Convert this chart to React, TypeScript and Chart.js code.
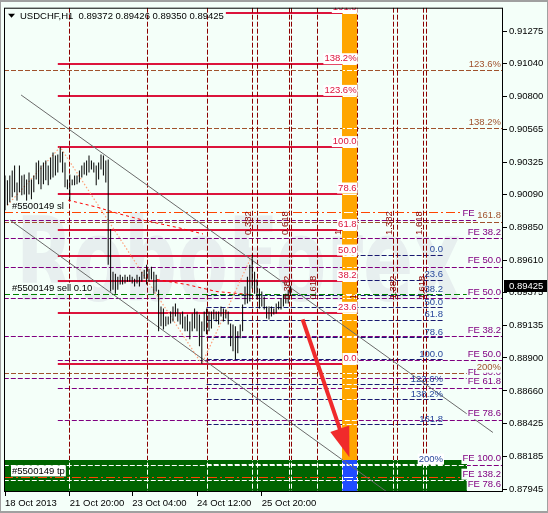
import { useEffect, useRef } from 'react';
import { Chart, registerables } from 'chart.js';

Chart.register(...registerables);

// USDCHF, H1 — one entry per bar
const highs = [
  0.90228, 0.90192, 0.90228, 0.90264, 0.90300, 0.90177, 0.90300, 0.90228, 0.90235, 0.90199,
  0.90249, 0.90199, 0.90228, 0.90322, 0.90336, 0.90300, 0.90322, 0.90336, 0.90300, 0.90358,
  0.90394, 0.90372, 0.90380, 0.90434, 0.90401, 0.90322, 0.90199, 0.90235, 0.90199, 0.90228,
  0.90228, 0.90264, 0.90300, 0.90322, 0.90336, 0.90372, 0.90336, 0.90322, 0.90300, 0.90322,
  0.90380, 0.90372, 0.90336, 0.90343, 0.89838, 0.89527, 0.89513, 0.89491, 0.89506, 0.89491,
  0.89506, 0.89491, 0.89506, 0.89491, 0.89477, 0.89506, 0.89491, 0.89527, 0.89542, 0.89578,
  0.89549, 0.89564, 0.89527, 0.89506, 0.89397, 0.89274, 0.89260, 0.89202, 0.89202, 0.89238,
  0.89274, 0.89296, 0.89260, 0.89224, 0.89238, 0.89202, 0.89216, 0.89166, 0.89224, 0.89260,
  0.89238, 0.89216, 0.89166, 0.89238, 0.89260, 0.89238, 0.89238, 0.89253, 0.89238, 0.89238,
  0.89274, 0.89260, 0.89253, 0.89238, 0.89151, 0.89144, 0.89130, 0.89094, 0.89144, 0.89289,
  0.89419, 0.89491, 0.89578, 0.89650, 0.89527, 0.89470, 0.89405, 0.89383, 0.89347, 0.89274,
  0.89274, 0.89274, 0.89260, 0.89296, 0.89310, 0.89332, 0.89361, 0.89368, 0.89397, 0.89426,
];
const lows = [
  0.89975, 0.90011, 0.90033, 0.90069, 0.90105, 0.90033, 0.90105, 0.90083, 0.90090, 0.90011,
  0.90090, 0.90054, 0.90105, 0.90199, 0.90163, 0.90127, 0.90163, 0.90192, 0.90156, 0.90199,
  0.90213, 0.90228, 0.90249, 0.90322, 0.90249, 0.90141, 0.90127, 0.90047, 0.90156, 0.90156,
  0.90163, 0.90177, 0.90213, 0.90235, 0.90228, 0.90249, 0.90271, 0.90249, 0.90156, 0.90199,
  0.90271, 0.90228, 0.90177, 0.89578, 0.89383, 0.89397, 0.89368, 0.89397, 0.89434, 0.89434,
  0.89441, 0.89455, 0.89455, 0.89441, 0.89419, 0.89441, 0.89419, 0.89455, 0.89477, 0.89434,
  0.89455, 0.89470, 0.89368, 0.89383, 0.89094, 0.89130, 0.89108, 0.89130, 0.89144, 0.89151,
  0.89166, 0.89202, 0.89166, 0.89144, 0.89115, 0.89094, 0.89094, 0.89036, 0.89094, 0.89115,
  0.89094, 0.88986, 0.88856, 0.89094, 0.89072, 0.89094, 0.89115, 0.89180, 0.89166, 0.89144,
  0.89202, 0.89166, 0.89188, 0.89144, 0.88986, 0.88949, 0.88889, 0.88935, 0.89043, 0.89094,
  0.89289, 0.89296, 0.89310, 0.89405, 0.89368, 0.89325, 0.89260, 0.89274, 0.89253, 0.89188,
  0.89180, 0.89202, 0.89216, 0.89224, 0.89253, 0.89253, 0.89274, 0.89296, 0.89296, 0.89350,
];
const headerText = 'USDCHF,H1  0.89372 0.89426 0.89350 0.89425';
const lastPrice = 0.89425;

// axes
const timeTickBars = [0, 27, 53, 80, 107];
const timeTickLabels = ['18 Oct 2013', '21 Oct 20:00', '23 Oct 04:00', '24 Oct 12:00', '25 Oct 20:00'];
const priceTicks = [
  0.91275, 0.9104, 0.908, 0.90565, 0.90325, 0.9009, 0.8985, 0.8961,
  0.89375, 0.89135, 0.889, 0.8866, 0.88425, 0.88185, 0.87945,
];
const X_MIN = -0.42;
const X_MAX = 207.5;
const Y_MIN = 0.87925;
const Y_MAX = 0.91448;

// Fibonacci retracement (crimson): from the 0.90434 high to the 0.88856 low
const retraceHighBar = 23;
const retraceLowBar = 82;
const retraceSpan = [22, 146.5];
const retraceLevels = [0, 23.6, 38.2, 50, 61.8, 78.6, 100, 123.6, 138.2, 161.8];
const retraceTexts = ['0.0', '23.6', '38.2', '50.0', '61.8', '78.6', '100.0', '123.6%', '138.2%', '161.8'];

// Fibonacci retracement (navy): last swing
const swingHighBar = 103;
const swingLowBar = 96;
const swingSpan = [84, 182.5];
const swingLevels = [0, 23.6, 38.2, 50, 61.8, 78.6, 100, 123.6, 138.2, 161.8, 200];
const swingTexts = ['0.0', '23.6', '38.2', '50.0', '61.8', '78.6', '100.0', '123.6%', '138.2%', '161.8', '200%'];

// Fibonacci extension levels (brown) of the larger move
const outerFibFrom = 0.94565;
const outerFibTo = 0.91677;
const outerLevels = [123.6, 138.2, 161.8, 200];
const outerTexts = ['123.6%', '138.2%', '161.8', '200%'];

// Fibonacci expansion levels (purple)
const expansionPrices = [0.89905, 0.89773, 0.89564, 0.89335, 0.89058, 0.88885, 0.88755, 0.88683, 0.8845, 0.88125, 0.88011, 0.87934];
const expansionTexts = ['FE 161.8', 'FE 38.2', 'FE 50.0', 'FE 50.0', 'FE 38.2', 'FE 50.0', 'FE 50.0', 'FE 61.8', 'FE 78.6', 'FE 100.0', 'FE 138.2', 'FE 78.6'];
const expansionFrom = [-0.5, -0.5, -0.5, -0.5, -0.5, 22, -0.5, 22, 22, -0.5, -0.5, -0.5];

// open order
const orderTag = '#5500149';
const stopLoss = 0.89961;
const entryPrice = 0.89364;
const takeProfit = 0.88035;

// Fibonacci time zones
const timeZoneBars = [26.5, 59, 84, 103, 105, 118.5, 119, 130, 140.5, 146.5, 161.5, 163.5, 174, 175.5];
const zoneRatioTexts = ['0.382', '0.618', '1', '1.382', '1.618'];
const zoneSetA = [103, 118.5, 140.5, 161.5, 174];
const zoneSetB = [119, 130, 146.5, 163.5, 175.5];
const zoneLabelPrices = [0.89795, 0.89325];

// target zone and support band
const targetZoneBars = [140.5, 146.5];
const targetZoneTop = 0.88156;
const bandBars = [-0.5, 192.5];

// channel, zigzag and curves
const channelUpper = [[6.7, 0.90813], [203.3, 0.88358]];
const channelLower = [[2.1, 0.89903], [170, 0.87789]];
const zigzag = [[1, 0.90011], [23, 0.90434], [82, 0.88856], [103, 0.8965]];
const curveA = [[26.3, 0.90048], [38.3, 0.89997], [47.9, 0.89947], [57.5, 0.89903], [72.9, 0.89845], [82.5, 0.89802]];
const curveB = [[63.3, 0.8947], [75.8, 0.89434], [88.3, 0.89383], [102.1, 0.89361]];
const arrowFrom = [124, 0.89181];
const arrowTo = [143.5, 0.88178];

const watermark = 'RoboForex';

const BG = '#f4fff9';
const FONT_FAMILY = '"Liberation Sans", Arial, sans-serif';
const FONT = `9.5px ${FONT_FAMILY}`;
const CRIMSON = '#dc143c';
const BROWN = '#a0522d';
const PURPLE = '#800080';
const NAVY = '#191970';
const NAVY_TEXT = '#28489c';
const DARKRED = '#8b0000';

const retracePrice = (L: number) => lows[retraceLowBar] + (highs[retraceHighBar] - lows[retraceLowBar]) * L / 100;
const swingPrice = (L: number) => highs[swingHighBar] + (lows[swingLowBar] - highs[swingHighBar]) * L / 100;
const outerPrice = (L: number) => outerFibFrom + (outerFibTo - outerFibFrom) * L / 100;

type HLine = { p: number; from: number; to: number; color: string; dash: number[]; w: number };

function levelLines(): HLine[] {
  const out: HLine[] = [];
  outerLevels.forEach((L) => out.push({ p: outerPrice(L), from: X_MIN, to: X_MAX, color: BROWN, dash: [5, 2], w: 1 }));
  expansionPrices.forEach((p, i) => out.push({ p, from: expansionFrom[i], to: X_MAX, color: PURPLE, dash: [5, 2], w: 1 }));
  swingLevels.forEach((L) => out.push({ p: swingPrice(L), from: swingSpan[0], to: swingSpan[1], color: NAVY, dash: [5, 2], w: 1 }));
  retraceLevels.forEach((L) => out.push({ p: retracePrice(L), from: retraceSpan[0], to: retraceSpan[1], color: CRIMSON, dash: [], w: 2 }));
  return out;
}

function orderLines(): HLine[] {
  return [
    { p: stopLoss, from: X_MIN, to: X_MAX, color: '#ff4500', dash: [9, 3, 2, 3], w: 1 },
    { p: entryPrice, from: X_MIN, to: X_MAX, color: '#008000', dash: [6, 3], w: 1 },
    { p: takeProfit, from: X_MIN, to: X_MAX, color: '#ff4500', dash: [9, 3, 2, 3], w: 1 },
  ];
}

function strokeH(ctx: any, X: any, Y: any, l: HLine, color?: string, width?: number) {
  const w = width ?? l.w;
  const py = w % 2 ? Math.round(Y(l.p)) + 0.5 : Math.round(Y(l.p));
  ctx.beginPath();
  ctx.strokeStyle = color ?? l.color;
  ctx.lineWidth = w;
  ctx.setLineDash(l.dash);
  ctx.moveTo(X(l.from), py);
  ctx.lineTo(X(l.to), py);
  ctx.stroke();
}

function strokeV(ctx: any, px: number, a: any, color: string) {
  const x = Math.round(px) + 0.5;
  ctx.beginPath();
  ctx.strokeStyle = color;
  ctx.lineWidth = 1;
  ctx.setLineDash([5, 2]);
  ctx.moveTo(x, a.top);
  ctx.lineTo(x, a.bottom);
  ctx.stroke();
}

function polyline(ctx: any, X: any, Y: any, pts: number[][], color: string, dash: number[], w: number) {
  ctx.beginPath();
  ctx.strokeStyle = color;
  ctx.lineWidth = w;
  ctx.setLineDash(dash);
  pts.forEach(([bx, p], i) => (i ? ctx.lineTo(X(bx), Y(p)) : ctx.moveTo(X(bx), Y(p))));
  ctx.stroke();
}

function label(ctx: any, text: string, x: number, y: number, align: CanvasTextAlign, color: string, box?: string) {
  ctx.font = FONT;
  ctx.textAlign = align;
  ctx.textBaseline = 'middle';
  if (box) {
    const w = ctx.measureText(text).width;
    const left = align === 'right' ? x - w : align === 'center' ? x - w / 2 : x;
    ctx.fillStyle = box;
    ctx.fillRect(left - 1, y - 5.5, w + 2, 11);
  }
  ctx.fillStyle = color;
  ctx.fillText(text, x, y);
}

const mtObjects = {
  id: 'mtObjects',
  beforeDraw(chart: any) {
    const { ctx, width, height } = chart;
    ctx.save();
    ctx.fillStyle = BG;
    ctx.fillRect(0, 0, width, height);
    ctx.fillStyle = '#a0a0a0';
    ctx.fillRect(0, 0, width, 2);
    ctx.fillRect(0, height - 2, width, 2);
    ctx.fillRect(0, 0, 1, height);
    ctx.fillRect(width - 1, 0, 1, height);
    ctx.restore();
  },
  beforeDatasetsDraw(chart: any) {
    const { ctx, chartArea: a, scales } = chart;
    const X = (v: number) => scales.x.getPixelForValue(v);
    const Y = (v: number) => scales.y.getPixelForValue(v);
    ctx.save();
    ctx.beginPath();
    ctx.rect(a.left, a.top, a.right - a.left, a.bottom - a.top);
    ctx.clip();
    ctx.fillStyle = BG;
    ctx.fillRect(a.left, a.top, a.right - a.left, a.bottom - a.top);

    // watermark
    ctx.save();
    ctx.font = `bold 116px "DejaVu Sans", ${FONT_FAMILY}`;
    const ww = ctx.measureText(watermark).width;
    ctx.translate(a.left + 12, 300);
    ctx.scale(445 / ww, 1);
    ctx.fillStyle = '#e7efef';
    ctx.textBaseline = 'alphabetic';
    ctx.textAlign = 'left';
    ctx.fillText(watermark, 0, 0);
    ctx.restore();

    const levels = levelLines();
    const orders = orderLines();
    levels.forEach((l) => strokeH(ctx, X, Y, l));

    // header backdrop
    ctx.font = FONT;
    const hw = ctx.measureText(headerText).width;
    ctx.fillStyle = BG;
    ctx.fillRect(a.left + 1, a.top + 1, 17 + hw, 13);

    timeZoneBars.forEach((b) => strokeV(ctx, X(b), a, DARKRED));

    // support band and target zone
    const gL = X(bandBars[0]);
    const gR = Math.round(X(bandBars[1]));
    const split = Math.round(Y(targetZoneTop));
    const cL = Math.round(X(targetZoneBars[0]));
    const cR = Math.round(X(targetZoneBars[1]));
    ctx.fillStyle = '#006400';
    ctx.fillRect(gL, split, gR - gL, a.bottom - split);
    ctx.fillStyle = '#ffa500';
    ctx.fillRect(cL, a.top, cR - cL, split - a.top);
    ctx.fillStyle = '#1f4cff';
    ctx.fillRect(cL, split, cR - cL, a.bottom - split);

    ctx.save();
    ctx.beginPath();
    ctx.rect(gL, split, gR - gL, a.bottom - split);
    ctx.clip();
    levels.forEach((l) => strokeH(ctx, X, Y, l, '#ffffff', 1));
    timeZoneBars.forEach((b) => strokeV(ctx, X(b), a, '#ffffff'));
    ctx.restore();

    orders.forEach((l) => strokeH(ctx, X, Y, l));

    ctx.save();
    ctx.beginPath();
    ctx.rect(cL + 1, a.top, cR - cL - 1, a.bottom - a.top);
    ctx.clip();
    levels.forEach((l) => strokeH(ctx, X, Y, l, '#ffffff', 1));
    orders.forEach((l) => strokeH(ctx, X, Y, l, '#ffffff', 1));
    ctx.restore();

    // channel, zigzag, curves
    polyline(ctx, X, Y, channelUpper, '#6a6a6a', [], 1);
    polyline(ctx, X, Y, channelLower, '#6a6a6a', [], 1);
    polyline(ctx, X, Y, zigzag, '#ffa07a', [1.5, 2], 1.2);
    polyline(ctx, X, Y, curveA, '#ff0000', [3, 3], 1);
    polyline(ctx, X, Y, curveB, '#ff0000', [3, 3], 1);
    ctx.restore();
  },
  afterDatasetsDraw(chart: any) {
    const { ctx, chartArea: a, scales } = chart;
    const X = (v: number) => scales.x.getPixelForValue(v);
    const Y = (v: number) => scales.y.getPixelForValue(v);
    ctx.save();
    ctx.beginPath();
    ctx.rect(a.left, a.top, a.right - a.left, a.bottom - a.top);
    ctx.clip();
    ctx.setLineDash([]);

    retraceLevels.forEach((L, i) => label(ctx, retraceTexts[i], X(retraceSpan[1]), Y(retracePrice(L)) - 5.5, 'right', CRIMSON, '#ffffff'));
    swingLevels.forEach((L, i) => label(ctx, swingTexts[i], X(swingSpan[1]), Y(swingPrice(L)) - 5, 'right', NAVY_TEXT, L === 200 ? '#ffffff' : undefined));
    expansionPrices.forEach((p, i) => label(ctx, expansionTexts[i], a.right - 2, Y(p) - 6, 'right', PURPLE, BG));
    outerLevels.forEach((L, i) => label(ctx, outerTexts[i], a.right - 2, Y(outerPrice(L)) - 6, 'right', BROWN, BG));

    label(ctx, `${orderTag} sl`, a.left + 8, Y(stopLoss) - 6, 'left', '#000000', BG);
    label(ctx, `${orderTag} sell 0.10`, a.left + 8, Y(entryPrice) - 6, 'left', '#000000', BG);
    label(ctx, `${orderTag} tp`, a.left + 8, Y(takeProfit) - 6, 'left', '#000000', '#ffffff');

    // time zone ratios, written upwards
    [zoneSetA, zoneSetB].forEach((set, s) => {
      set.forEach((b, i) => {
        ctx.save();
        ctx.translate(Math.round(X(b)) - 1, Y(zoneLabelPrices[s]));
        ctx.rotate(-Math.PI / 2);
        ctx.font = FONT;
        ctx.textAlign = 'left';
        ctx.textBaseline = 'alphabetic';
        ctx.fillStyle = DARKRED;
        ctx.fillText(zoneRatioTexts[i], 0, 0);
        ctx.restore();
      });
    });

    // forecast arrow
    const x0 = X(arrowFrom[0]), y0 = Y(arrowFrom[1]);
    const x1 = X(arrowTo[0]), y1 = Y(arrowTo[1]);
    const ang = Math.atan2(y1 - y0, x1 - x0);
    const headLen = 30, headHalf = 10;
    const bx = x1 - headLen * Math.cos(ang), by = y1 - headLen * Math.sin(ang);
    ctx.strokeStyle = '#f02b2b';
    ctx.fillStyle = '#f02b2b';
    ctx.lineWidth = 4;
    ctx.beginPath();
    ctx.moveTo(x0, y0);
    ctx.lineTo(bx + 3 * Math.cos(ang), by + 3 * Math.sin(ang));
    ctx.stroke();
    ctx.beginPath();
    ctx.moveTo(x1, y1);
    ctx.lineTo(bx + headHalf * Math.sin(ang), by - headHalf * Math.cos(ang));
    ctx.lineTo(bx - headHalf * Math.sin(ang), by + headHalf * Math.cos(ang));
    ctx.closePath();
    ctx.fill();

    // header
    ctx.fillStyle = '#000000';
    ctx.beginPath();
    ctx.moveTo(a.left + 4, a.top + 6);
    ctx.lineTo(a.left + 11, a.top + 6);
    ctx.lineTo(a.left + 7.5, a.top + 10);
    ctx.closePath();
    ctx.fill();
    label(ctx, headerText, a.left + 16, a.top + 8.5, 'left', '#000000');
    ctx.restore();

    // plot frame
    ctx.save();
    ctx.strokeStyle = '#000000';
    ctx.lineWidth = 1;
    ctx.setLineDash([]);
    ctx.strokeRect(a.left + 0.5, a.top + 0.5, a.right - a.left - 1, a.bottom - a.top - 1);

    // last price marker
    const py = Y(lastPrice);
    ctx.fillStyle = '#000000';
    ctx.fillRect(a.right + 1, Math.round(py) - 6, chart.width - a.right - 2, 12);
    ctx.font = FONT;
    ctx.textAlign = 'left';
    ctx.textBaseline = 'middle';
    ctx.fillStyle = '#ffffff';
    ctx.fillText(lastPrice.toFixed(5), a.right + 6, Math.round(py));
    ctx.restore();
  },
};

export default function App() {
  const ref = useRef<HTMLCanvasElement>(null);
  useEffect(() => {
    const canvas = ref.current;
    if (!canvas) return;
    const tickFont = { family: FONT_FAMILY, size: 9.5 };
    const chart = new Chart(canvas, {
      type: 'bar',
      data: {
        datasets: [
          {
            data: highs.map((h, i) => ({ x: i, y: [lows[i], h] })) as any,
            backgroundColor: '#000000',
            borderWidth: 0,
            barThickness: 1,
            inflateAmount: 0,
          },
        ],
      },
      options: {
        responsive: false,
        maintainAspectRatio: false,
        animation: false,
        layout: { padding: { left: 4, top: 4, right: 0, bottom: 0 } },
        plugins: { legend: { display: false }, tooltip: { enabled: false } },
        scales: {
          x: {
            type: 'linear',
            min: X_MIN,
            max: X_MAX,
            offset: false,
            grid: { drawOnChartArea: false, offset: false, tickLength: 4, color: '#000000' },
            border: { display: false },
            ticks: {
              align: 'start',
              maxRotation: 0,
              autoSkip: false,
              padding: 2,
              color: '#000000',
              font: tickFont,
              callback: (v: any) => {
                const i = timeTickBars.indexOf(Number(v));
                return i >= 0 ? timeTickLabels[i] : '';
              },
            },
            afterBuildTicks: (s: any) => {
              s.ticks = timeTickBars.map((v) => ({ value: v }));
            },
            afterFit: (s: any) => {
              s.height = 21;
            },
          },
          y: {
            position: 'right',
            min: Y_MIN,
            max: Y_MAX,
            beginAtZero: false,
            grid: { drawOnChartArea: false, tickLength: 4, color: '#000000' },
            border: { display: false },
            ticks: {
              autoSkip: false,
              padding: 2,
              color: '#000000',
              font: tickFont,
              callback: (v: any) => Number(v).toFixed(5),
            },
            afterBuildTicks: (s: any) => {
              s.ticks = priceTicks.map((v) => ({ value: v }));
            },
            afterFit: (s: any) => {
              s.width = 45;
            },
          },
        },
      } as any,
      plugins: [mtObjects],
    });
    return () => chart.destroy();
  }, []);
  return (
    <div style={{ position: 'fixed', left: 0, top: 0, width: 548, height: 513 }}>
      <canvas ref={ref} width={548} height={513} style={{ display: 'block', width: 548, height: 513 }} />
    </div>
  );
}
